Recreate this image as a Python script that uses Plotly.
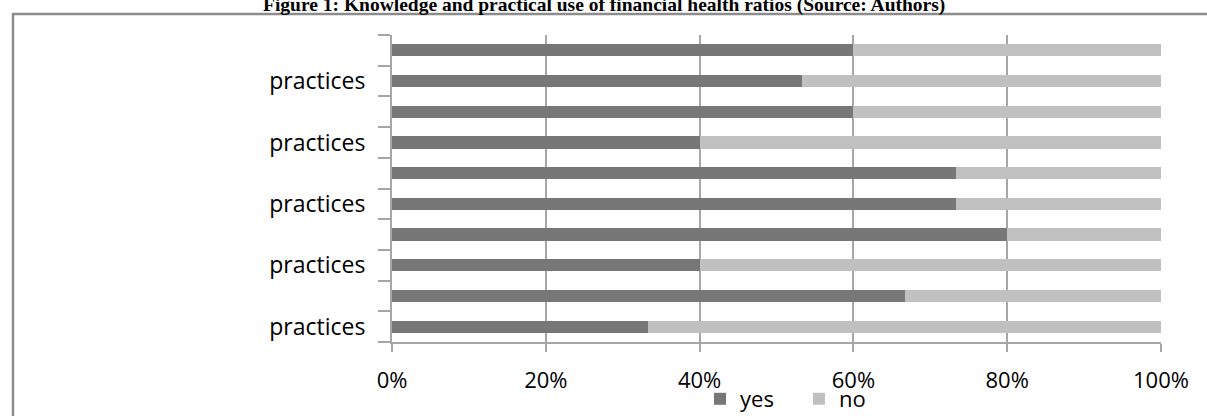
import plotly.graph_objects as go

# Rows listed top to bottom
row_labels = ["", "practices", "", "practices", "", "practices", "", "practices", "", "practices"]
yes_pct = [60.0, 53.3, 60.0, 40.0, 73.3, 73.3, 80.0, 40.0, 66.7, 33.3]
no_pct = [40.0, 46.7, 40.0, 60.0, 26.7, 26.7, 20.0, 60.0, 33.3, 66.7]
x_ticks = [0, 20, 40, 60, 80, 100]
x_tick_text = ["0%", "20%", "40%", "60%", "80%", "100%"]
title_text = "Figure 1: Knowledge and practical use of financial health ratios (Source: Authors)"

W, H = 1207, 416
L, R, T, B = 392, 46, 35, 74
PW, PH = W - L - R, H - T - B

def px_x(p):
    return (p - L) / PW

def px_y(p):
    return (H - B - p) / PH

rows = list(range(len(row_labels)))
FONT = "Open Sans"
AXIS_GRAY = "#a6a6a6"

fig = go.Figure()
fig.add_trace(go.Bar(y=rows, x=yes_pct, orientation="h", name="yes",
                     marker=dict(color="#777777", line=dict(width=0)), width=0.4))
fig.add_trace(go.Bar(y=rows, x=no_pct, orientation="h", name="no",
                     marker=dict(color="#c0c0c0", line=dict(width=0)), width=0.4))

fig.update_layout(
    width=W, height=H,
    margin=dict(l=L, r=R, t=T, b=B, autoexpand=False),
    barmode="stack",
    plot_bgcolor="white", paper_bgcolor="white",
    font=dict(family=FONT, size=22, color="#000000"),
    showlegend=True,
    legend=dict(orientation="h", traceorder="normal",
                x=px_x(700), xanchor="left",
                y=px_y(378), yanchor="top",
                font=dict(size=22), itemwidth=30,
                entrywidth=54, entrywidthmode="pixels",
                bgcolor="rgba(0,0,0,0)"),
    xaxis=dict(range=[0, 100], tickmode="array", tickvals=x_ticks, ticktext=x_tick_text,
               showgrid=True, gridcolor=AXIS_GRAY, gridwidth=1.5,
               showline=True, linecolor=AXIS_GRAY, linewidth=2,
               ticks="outside", ticklen=8, tickcolor=AXIS_GRAY, tickwidth=2,
               ticklabelstandoff=10,
               zeroline=False, fixedrange=True),
    yaxis=dict(range=[len(rows) - 0.5, -0.5], tickmode="array",
               tickvals=rows, ticktext=row_labels, ticks="",
               tickfont=dict(size=23),
               ticklabelstandoff=20,
               showline=True, linecolor=AXIS_GRAY, linewidth=2,
               showgrid=False, zeroline=False,
               minor=dict(tickmode="linear", tick0=0.5, dtick=1,
                          ticks="outside", ticklen=12,
                          tickcolor=AXIS_GRAY, tickwidth=2, showgrid=False)),
    shapes=[dict(type="rect", xref="paper", yref="paper",
                 x0=px_x(13), x1=px_x(1212), y0=px_y(430), y1=px_y(14),
                 line=dict(color="#8c8c8c", width=2.5), fillcolor="rgba(0,0,0,0)",
                 layer="below")],
    annotations=[dict(text="<b>" + title_text + "</b>", xref="paper", yref="paper",
                      x=px_x(604), y=px_y(18), xanchor="center", yanchor="bottom",
                      showarrow=False,
                      font=dict(family="Liberation Serif", size=19.5, color="#000000"))],
)

fig.write_html("out.html")
